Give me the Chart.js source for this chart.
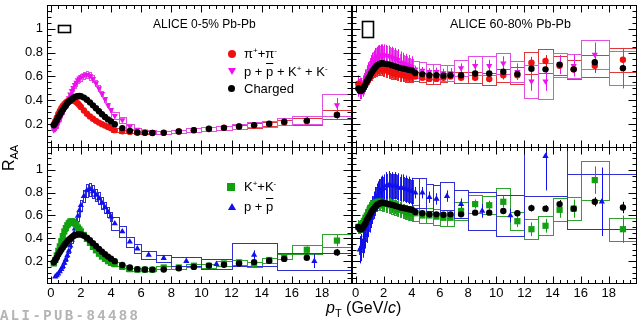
<!DOCTYPE html>
<html>
<head>
<meta charset="utf-8">
<script src="https://cdn.jsdelivr.net/npm/chart.js@4.4.1/dist/chart.umd.min.js"></script>
<style>
  body { margin: 0; background: #fff; }
  #wrap { position: relative; width: 642px; height: 322px; overflow: hidden;
          font-family: "Liberation Sans", Arial, sans-serif; color: #000; }
  canvas { position: absolute; }
  .t { position: absolute; white-space: nowrap; line-height: 1; }
  .t sup { font-size: 8px; vertical-align: 5px; }
  .mk { position: absolute; }
</style>
</head>
<body>
<div id="wrap">
  <canvas id="tl" width="353" height="148" style="left:0;top:0"></canvas>
  <canvas id="tr" width="290" height="148" style="left:352px;top:0"></canvas>
  <canvas id="bl" width="353" height="175" style="left:0;top:147px"></canvas>
  <canvas id="br" width="290" height="175" style="left:352px;top:147px"></canvas>

  <div class="t" style="left:153px;top:18px;font-size:12px">ALICE 0-5% Pb-Pb</div>
  <div class="t" style="left:450px;top:18px;font-size:12.5px">ALICE 60-80% Pb-Pb</div>

  <!-- legend, top left -->
  <div class="mk" style="left:228px;top:50px;width:8px;height:8px;border-radius:50%;background:#f01010"></div>
  <div class="t" style="left:244px;top:47px;font-size:13px">&pi;<sup>+</sup>+&pi;<sup>-</sup></div>
  <div class="mk" style="left:228px;top:68px;width:0;height:0;border-left:4px solid transparent;border-right:4px solid transparent;border-top:7px solid #ee10ee"></div>
  <div class="t" style="left:244px;top:65px;font-size:13px">p + <span style="text-decoration:overline">p</span> + K<sup>+</sup> + K<sup>-</sup></div>
  <div class="mk" style="left:228px;top:85px;width:7px;height:7px;border-radius:50%;background:#000"></div>
  <div class="t" style="left:244px;top:82px;font-size:13px">Charged</div>

  <!-- legend, bottom left -->
  <div class="mk" style="left:227px;top:183px;width:8px;height:8px;background:#10a010"></div>
  <div class="t" style="left:244px;top:180px;font-size:13px">K<sup>+</sup>+K<sup>-</sup></div>
  <div class="mk" style="left:228px;top:203px;width:0;height:0;border-left:4px solid transparent;border-right:4px solid transparent;border-bottom:7px solid #1010ee"></div>
  <div class="t" style="left:244px;top:200px;font-size:13px">p + <span style="text-decoration:overline">p</span></div>

  <div class="t" style="left:-12px;top:149px;width:44px;height:18px;text-align:center;font-size:16px;transform:rotate(-90deg)">R<sub style="font-size:11px">AA</sub></div>
  <div class="t" style="left:326px;top:300px;font-size:16px"><i>p</i><sub style="font-size:11px">T</sub> (GeV/<i>c</i>)</div>
  <div class="t" style="left:0;top:309px;font-size:14px;font-weight:bold;color:#b4b4b4;font-family:'Liberation Mono',monospace;letter-spacing:2.4px">ALI-PUB-84488</div>
</div>

<script>
// ── Data ────────────────────────────────────────────
const DENSE_X = [0.2, 0.3, 0.4, 0.5, 0.6, 0.7, 0.8, 0.9, 1.0, 1.1, 1.2, 1.3, 1.4, 1.5, 1.6,
                 1.7, 1.8, 1.9, 2.0, 2.2, 2.4, 2.6, 2.8, 3.0, 3.2, 3.4, 3.6, 3.8, 4.0];
const HIGH_X = [4.25, 4.75, 5.25, 5.75, 6.25, 6.75, 7.5, 8.5, 9.5, 10.5, 11.5, 12.5, 13.5, 14.5, 15.5, 17, 19];
const HIGH_HW = [0.25, 0.25, 0.25, 0.25, 0.25, 0.25, 0.5, 0.5, 0.5, 0.5, 0.5, 0.5, 0.5, 0.5, 0.5, 1, 1];
const P_X = [4.25, 4.75, 5.25, 5.75, 6.5, 7.5, 9, 11, 13.5, 17.5];
const P_HW = [0.25, 0.25, 0.25, 0.25, 0.5, 0.5, 1, 1, 1.5, 2.5];

const X_TICKS = [0, 2, 4, 6, 8, 10, 12, 14, 16, 18];
const Y_TICKS = [0.2, 0.4, 0.6, 0.8, 1];

// 0-5% central
const CH_C_LOW = [0.19, 0.21, 0.233, 0.258, 0.28, 0.30, 0.32, 0.34, 0.355, 0.375, 0.388, 0.40, 0.41, 0.42, 0.427,
                  0.432, 0.435, 0.436, 0.434, 0.423, 0.405, 0.383, 0.358, 0.333, 0.308, 0.283, 0.26, 0.24, 0.222];
const CH_C_HIGH = [0.20, 0.167, 0.144, 0.13, 0.127, 0.126, 0.127, 0.138, 0.15, 0.161, 0.169, 0.18, 0.192, 0.203, 0.22, 0.23, 0.277];
const CH_C_STAT = [0.004, 0.004, 0.004, 0.004, 0.004, 0.004, 0.004, 0.005, 0.005, 0.006, 0.007, 0.008, 0.009, 0.01, 0.012, 0.013, 0.03];

const PI_C_LOW = [0.2, 0.225, 0.255, 0.285, 0.31, 0.335, 0.352, 0.368, 0.38, 0.39, 0.396, 0.399, 0.4, 0.398, 0.393,
                  0.385, 0.373, 0.36, 0.345, 0.315, 0.288, 0.265, 0.245, 0.228, 0.213, 0.2, 0.188, 0.176, 0.166];
const PI_C_HIGH = [0.15, 0.14, 0.135, 0.13, 0.128, 0.127, 0.128, 0.138, 0.15, 0.16, 0.17, 0.18, 0.19, 0.2, 0.215, 0.225, 0.28];
const PI_C_STAT = [0.004, 0.004, 0.004, 0.004, 0.004, 0.004, 0.005, 0.005, 0.006, 0.007, 0.008, 0.009, 0.01, 0.012, 0.014, 0.016, 0.03];
const PI_C_SYS = [0.015, 0.014, 0.013, 0.012, 0.012, 0.012, 0.012, 0.013, 0.014, 0.015, 0.016, 0.017, 0.018, 0.019, 0.02, 0.03, 0.04];

const PK_C_LOW = [0.15, 0.16, 0.18, 0.21, 0.24, 0.27, 0.30, 0.33, 0.36, 0.39, 0.42, 0.45, 0.48, 0.505, 0.53,
                  0.55, 0.57, 0.585, 0.595, 0.61, 0.615, 0.605, 0.58, 0.545, 0.50, 0.455, 0.41, 0.36, 0.32];
const PK_C_HIGH = [0.27, 0.235, 0.18, 0.155, 0.14, 0.135, 0.13, 0.14, 0.15, 0.16, 0.17, 0.18, 0.195, 0.205, 0.22, 0.235, 0.36];
const PK_C_STAT = [0.006, 0.006, 0.006, 0.006, 0.006, 0.006, 0.006, 0.007, 0.008, 0.009, 0.01, 0.012, 0.014, 0.016, 0.02, 0.025, 0.06];
const PK_C_SYS = [0.03, 0.025, 0.02, 0.016, 0.015, 0.014, 0.014, 0.015, 0.016, 0.017, 0.018, 0.02, 0.022, 0.025, 0.03, 0.03, 0.09];

const K_C_LOW = [0.18, 0.21, 0.25, 0.29, 0.33, 0.375, 0.42, 0.46, 0.49, 0.515, 0.535, 0.548, 0.55, 0.545, 0.53,
                 0.515, 0.495, 0.478, 0.46, 0.43, 0.395, 0.36, 0.325, 0.295, 0.265, 0.24, 0.22, 0.20, 0.185];
const K_C_HIGH = [0.174, 0.15, 0.13, 0.125, 0.125, 0.125, 0.145, 0.145, 0.16, 0.16, 0.18, 0.19, 0.17, 0.21, 0.24, 0.30, 0.38];
const K_C_STAT = [0.004, 0.004, 0.004, 0.004, 0.004, 0.004, 0.005, 0.006, 0.007, 0.008, 0.01, 0.012, 0.014, 0.016, 0.02, 0.03, 0.05];
const K_C_SYS = [0.015, 0.013, 0.012, 0.012, 0.012, 0.012, 0.014, 0.014, 0.015, 0.016, 0.018, 0.02, 0.02, 0.022, 0.025, 0.04, 0.06];

const P_C_LOW = [null, 0.065, 0.075, 0.09, 0.11, 0.13, 0.155, 0.185, 0.215, 0.25, 0.29, 0.335, 0.385, 0.435, 0.485,
                 0.54, 0.595, 0.645, 0.69, 0.77, 0.82, 0.83, 0.81, 0.78, 0.75, 0.71, 0.67, 0.63, 0.59];
const P_C_HIGH = [0.53, 0.46, 0.37, 0.31, 0.255, 0.226, 0.2, 0.174, 0.255, 0.2];
const P_C_STAT = [0.01, 0.01, 0.01, 0.01, 0.01, 0.015, 0.015, 0.02, 0.04, 0.06];
const P_C_SYS = [0.06, 0.05, 0.045, 0.04, 0.035, 0.03, 0.038, 0.043, 0.1, 0.075];

// 60-80% peripheral
const CH_P_LOW = [0.5, 0.48, 0.48, 0.49, 0.51, 0.53, 0.56, 0.58, 0.6, 0.625, 0.645, 0.66, 0.675, 0.69, 0.70,
                  0.705, 0.71, 0.712, 0.71, 0.705, 0.70, 0.693, 0.685, 0.678, 0.67, 0.665, 0.66, 0.655, 0.65];
const CH_P_HIGH = [0.63, 0.62, 0.61, 0.61, 0.607, 0.61, 0.61, 0.625, 0.625, 0.64, 0.62, 0.665, 0.66, 0.70, 0.66, 0.72, 0.67];
const CH_P_STAT = [0.01, 0.01, 0.01, 0.01, 0.01, 0.01, 0.01, 0.015, 0.015, 0.02, 0.02, 0.03, 0.03, 0.035, 0.04, 0.04, 0.05];

const PI_P_LOW = [0.54, 0.5, 0.49, 0.5, 0.52, 0.54, 0.56, 0.58, 0.6, 0.62, 0.635, 0.645, 0.655, 0.66, 0.665,
                  0.667, 0.667, 0.665, 0.66, 0.65, 0.64, 0.632, 0.625, 0.62, 0.615, 0.61, 0.605, 0.6, 0.6];
const PI_P_HIGH = [0.6, 0.59, 0.58, 0.58, 0.59, 0.6, 0.59, 0.59, 0.58, 0.61, 0.61, 0.715, 0.73, 0.69, 0.66, 0.69, 0.74];
const PI_P_STAT = [0.015, 0.015, 0.015, 0.015, 0.02, 0.02, 0.02, 0.025, 0.03, 0.035, 0.04, 0.05, 0.05, 0.05, 0.05, 0.06, 0.07];
const PI_P_SYS = [0.04, 0.04, 0.04, 0.04, 0.04, 0.04, 0.045, 0.045, 0.05, 0.055, 0.07, 0.09, 0.1, 0.08, 0.08, 0.09, 0.1];

const PK_P_LOW = [0.52, 0.5, 0.5, 0.52, 0.54, 0.57, 0.6, 0.63, 0.66, 0.69, 0.71, 0.73, 0.75, 0.76, 0.77,
                  0.775, 0.78, 0.78, 0.78, 0.775, 0.77, 0.76, 0.75, 0.74, 0.72, 0.71, 0.7, 0.69, 0.68];
const PK_P_HIGH = [0.66, 0.65, 0.64, 0.64, 0.63, 0.63, 0.67, 0.69, 0.69, 0.71, 0.64, 0.56, 0.56, 0.70, 0.69, 0.785, 0.67];
const PK_P_STAT = [0.03, 0.03, 0.03, 0.035, 0.035, 0.04, 0.04, 0.05, 0.05, 0.06, 0.07, 0.08, 0.08, 0.08, 0.09, 0.1, 0.17];
const PK_P_SYS = [0.07, 0.07, 0.065, 0.065, 0.065, 0.065, 0.07, 0.08, 0.08, 0.09, 0.09, 0.14, 0.15, 0.1, 0.1, 0.12, 0.14];

const K_P_LOW = [0.5, 0.5, 0.51, 0.53, 0.55, 0.58, 0.6, 0.63, 0.65, 0.67, 0.685, 0.7, 0.71, 0.715, 0.72,
                 0.72, 0.72, 0.715, 0.71, 0.70, 0.69, 0.68, 0.67, 0.66, 0.65, 0.64, 0.63, 0.62, 0.62];
const K_P_HIGH = [0.62, 0.6, 0.6, 0.59, 0.58, 0.58, 0.64, 0.70, 0.69, 0.72, 0.55, 0.48, 0.51, 0.65, 0.66, 0.91, 0.48];
const K_P_STAT = [0.02, 0.02, 0.02, 0.02, 0.02, 0.02, 0.03, 0.04, 0.04, 0.05, 0.05, 0.06, 0.06, 0.07, 0.08, 0.12, 0.12];
const K_P_SYS = [0.07, 0.07, 0.07, 0.07, 0.07, 0.07, 0.08, 0.08, 0.08, 0.12, 0.08, 0.085, 0.085, 0.1, 0.1, 0.17, 0.1];

const P_P_LOW = [null, 0.3, 0.32, 0.35, 0.39, 0.43, 0.48, 0.53, 0.57, 0.61, 0.65, 0.69, 0.73, 0.76, 0.78,
                 0.80, 0.82, 0.83, 0.84, 0.86, 0.87, 0.86, 0.86, 0.85, 0.84, 0.84, 0.83, 0.82, 0.81];
const P_P_HIGH = [0.80, 0.80, 0.76, 0.745, 0.77, 0.70, 0.64, 0.60, 1.12, 0.72];
const P_P_STAT = [0.05, 0.05, 0.05, 0.05, 0.05, 0.05, 0.06, 0.06, 0.3, 0.3];
const P_P_SYS = [0.13, 0.13, 0.12, 0.12, 0.12, 0.12, 0.17, 0.18, 0.35, 0.24];

// ── Styles ──────────────────────────────────────────
const FONT = "'Liberation Sans', Arial, sans-serif";
const ST = {
  ch: { shape: 'circle', r: 3.2, color: '#000000', box: '#000000' },
  pi: { shape: 'circle', r: 3.2, color: '#f01010', box: '#e03838' },
  pk: { shape: 'triangle', rot: 180, r: 3.6, color: '#ee10ee', box: '#e050e0' },
  k:  { shape: 'rect', r: 4.4, color: '#10a010', box: '#30a030' },
  p:  { shape: 'triangle', r: 3.6, color: '#1010ee', box: '#3030d0' },
};

function pick(v, i) { return Array.isArray(v) ? v[i] : v; }

function series(xs, ys, st, extra) {
  return Object.assign({
    data: xs.map((x, i) => ({ x, y: ys[i] })),
    showLine: false,
    pointStyle: st.shape,
    pointRotation: st.rot || 0,
    pointRadius: st.r,
    pointBackgroundColor: st.color,
    pointBorderColor: st.color,
    pointBorderWidth: 0,
    errColor: st.color,
    boxColor: st.box,
  }, extra || {});
}

// ROOT-like frame, ticks, error bars and systematic boxes
const rootStyle = {
  id: 'rootStyle',
  beforeDatasetsDraw(chart) {
    const { ctx, chartArea: a, scales: { x, y } } = chart;
    ctx.save();
    ctx.beginPath();
    ctx.rect(a.left, a.top, a.right - a.left, a.bottom - a.top);
    ctx.clip();
    ctx.lineWidth = 1;
    chart.data.datasets.forEach(ds => {
      ds.data.forEach((p, i) => {
        if (p.y == null) return;
        const s = ds.sysRel ? ds.sysRel * p.y : pick(ds.sys, i);
        if (!s) return;
        const hw = pick(ds.hw, i);
        const x0 = Math.round(x.getPixelForValue(p.x - hw)) + 0.5;
        const x1 = Math.round(x.getPixelForValue(p.x + hw)) + 0.5;
        const y0 = Math.round(y.getPixelForValue(p.y + s)) + 0.5;
        const y1 = Math.round(y.getPixelForValue(p.y - s)) + 0.5;
        ctx.strokeStyle = ds.boxColor;
        ctx.strokeRect(x0, y0, x1 - x0, y1 - y0);
      });
    });
    chart.data.datasets.forEach(ds => {
      ds.data.forEach((p, i) => {
        if (p.y == null) return;
        const e = pick(ds.stat, i);
        if (!e) return;
        const px = Math.round(x.getPixelForValue(p.x)) + 0.5;
        ctx.strokeStyle = ds.errColor;
        ctx.beginPath();
        ctx.moveTo(px, y.getPixelForValue(p.y + e));
        ctx.lineTo(px, y.getPixelForValue(p.y - e));
        ctx.stroke();
      });
    });
    ctx.restore();
  },
  afterDraw(chart, args, opts) {
    const { ctx, chartArea: a, scales: { x, y } } = chart;
    ctx.save();
    ctx.strokeStyle = '#000';
    ctx.lineWidth = 1;
    const L = Math.round(a.left) + 0.5, R = Math.round(a.right) - 0.5;
    const T = Math.round(a.top) + 0.5, B = Math.round(a.bottom) - 0.5;
    ctx.strokeRect(L, T, R - L, B - T);
    ctx.beginPath();
    for (let k = 0; k <= 40; k++) {
      const v = k * 0.5;
      const px = Math.round(x.getPixelForValue(v)) + 0.5;
      if (px < L || px > R) continue;
      const len = k % 4 === 0 ? 7 : 3.5;
      ctx.moveTo(px, B); ctx.lineTo(px, B - len);
      ctx.moveTo(px, T); ctx.lineTo(px, T + len);
    }
    for (let k = 0; k <= 24; k++) {
      const py = Math.round(y.getPixelForValue(k * 0.05)) + 0.5;
      if (py < T || py > B) continue;
      const len = k % 4 === 0 ? 8 : 4;
      ctx.moveTo(L, py); ctx.lineTo(L + len, py);
      ctx.moveTo(R, py); ctx.lineTo(R - len, py);
    }
    ctx.stroke();
    if (opts.norm) {
      const n = opts.norm;
      const x0 = Math.round(x.getPixelForValue(n.x0)) + 0.5, x1 = Math.round(x.getPixelForValue(n.x1)) + 0.5;
      const y0 = Math.round(y.getPixelForValue(n.y1)) + 0.5, y1 = Math.round(y.getPixelForValue(n.y0)) + 0.5;
      ctx.lineWidth = 1.6;
      ctx.strokeRect(x0, y0, x1 - x0, y1 - y0);
    }
    ctx.restore();
  }
};

function makePanel(id, datasets, opts) {
  const tickFont = { family: FONT, size: 13 };
  return new Chart(document.getElementById(id), {
    type: 'scatter',
    data: { datasets },
    options: {
      responsive: false,
      animation: false,
      events: [],
      layout: { autoPadding: false, padding: opts.padding },
      plugins: { legend: { display: false }, tooltip: { enabled: false }, rootStyle: { norm: opts.norm } },
      scales: {
        x: {
          type: 'linear', min: -0.25, max: 20, display: opts.showX,
          grid: { display: false, drawTicks: false }, border: { display: false },
          afterBuildTicks: s => { s.ticks = X_TICKS.map(v => ({ value: v })); },
          afterFit: s => { s.height = opts.showX ? 38 : 0; s.paddingLeft = 0; s.paddingRight = 0; },
          ticks: { padding: 2, color: '#000', font: tickFont, maxRotation: 0, autoSkip: false,
                   callback: v => String(v) },
        },
        y: {
          type: 'linear', min: 0, max: 1.2, display: opts.showY,
          grid: { display: false, drawTicks: false }, border: { display: false },
          afterBuildTicks: s => { s.ticks = Y_TICKS.map(v => ({ value: v })); },
          afterFit: s => { s.width = opts.showY ? 47 : 0; s.paddingTop = 0; s.paddingBottom = 0; },
          ticks: { padding: 4, color: '#000', font: tickFont, autoSkip: false,
                   callback: v => (v === 1 ? '1' : v.toFixed(1)) },
        },
      },
    },
    plugins: [rootStyle],
  });
}

const DENSE_HW = 0.05;

makePanel('tl', [
  series(DENSE_X, CH_C_LOW, ST.ch),
  series(HIGH_X, CH_C_HIGH, ST.ch, { stat: CH_C_STAT }),
  series(DENSE_X, PI_C_LOW, ST.pi, { sysRel: 0.04, hw: DENSE_HW }),
  series(HIGH_X, PI_C_HIGH, ST.pi, { stat: PI_C_STAT, sys: PI_C_SYS, hw: HIGH_HW }),
  series(DENSE_X, PK_C_LOW, ST.pk, { sysRel: 0.05, hw: DENSE_HW }),
  series(HIGH_X, PK_C_HIGH, ST.pk, { stat: PK_C_STAT, sys: PK_C_SYS, hw: HIGH_HW }),
], { padding: { top: 5, bottom: 0, left: 0, right: 1 }, showX: false, showY: true,
     norm: { x0: 0.45, x1: 1.25, y0: 0.97, y1: 1.03 } });

makePanel('tr', [
  series(DENSE_X, CH_P_LOW, ST.ch, { stat: 0.01 }),
  series(HIGH_X, CH_P_HIGH, ST.ch, { stat: CH_P_STAT }),
  series(DENSE_X, PI_P_LOW, ST.pi, { stat: 0.05, sysRel: 0.08, hw: DENSE_HW }),
  series(HIGH_X, PI_P_HIGH, ST.pi, { stat: PI_P_STAT, sys: PI_P_SYS, hw: HIGH_HW }),
  series(DENSE_X, PK_P_LOW, ST.pk, { stat: 0.09, sysRel: 0.1, hw: DENSE_HW }),
  series(HIGH_X, PK_P_HIGH, ST.pk, { stat: PK_P_STAT, sys: PK_P_SYS, hw: HIGH_HW }),
], { padding: { top: 5, bottom: 0, left: 0, right: 5 }, showX: false, showY: false,
     norm: { x0: 0.45, x1: 1.25, y0: 0.935, y1: 1.065 } });

makePanel('bl', [
  series(DENSE_X, CH_C_LOW, ST.ch),
  series(HIGH_X, CH_C_HIGH, ST.ch, { stat: CH_C_STAT }),
  series(DENSE_X, K_C_LOW, ST.k, { sysRel: 0.05, hw: DENSE_HW }),
  series(HIGH_X, K_C_HIGH, ST.k, { stat: K_C_STAT, sys: K_C_SYS, hw: HIGH_HW }),
  series(DENSE_X, P_C_LOW, ST.p, { sysRel: 0.07, hw: DENSE_HW }),
  series(P_X, P_C_HIGH, ST.p, { stat: P_C_STAT, sys: P_C_SYS, hw: P_HW }),
], { padding: { top: 0, bottom: 0, left: 0, right: 1 }, showX: true, showY: true });

makePanel('br', [
  series(DENSE_X, CH_P_LOW, ST.ch, { stat: 0.01 }),
  series(HIGH_X, CH_P_HIGH, ST.ch, { stat: CH_P_STAT }),
  series(DENSE_X, K_P_LOW, ST.k, { stat: 0.06, sysRel: 0.1, hw: DENSE_HW }),
  series(HIGH_X, K_P_HIGH, ST.k, { stat: K_P_STAT, sys: K_P_SYS, hw: HIGH_HW }),
  series(DENSE_X, P_P_LOW, ST.p, { stat: 0.12, sysRel: 0.12, hw: DENSE_HW }),
  series(P_X, P_P_HIGH, ST.p, { stat: P_P_STAT, sys: P_P_SYS, hw: P_HW }),
], { padding: { top: 0, bottom: 0, left: 0, right: 5 }, showX: true, showY: false });
</script>
</body>
</html>
